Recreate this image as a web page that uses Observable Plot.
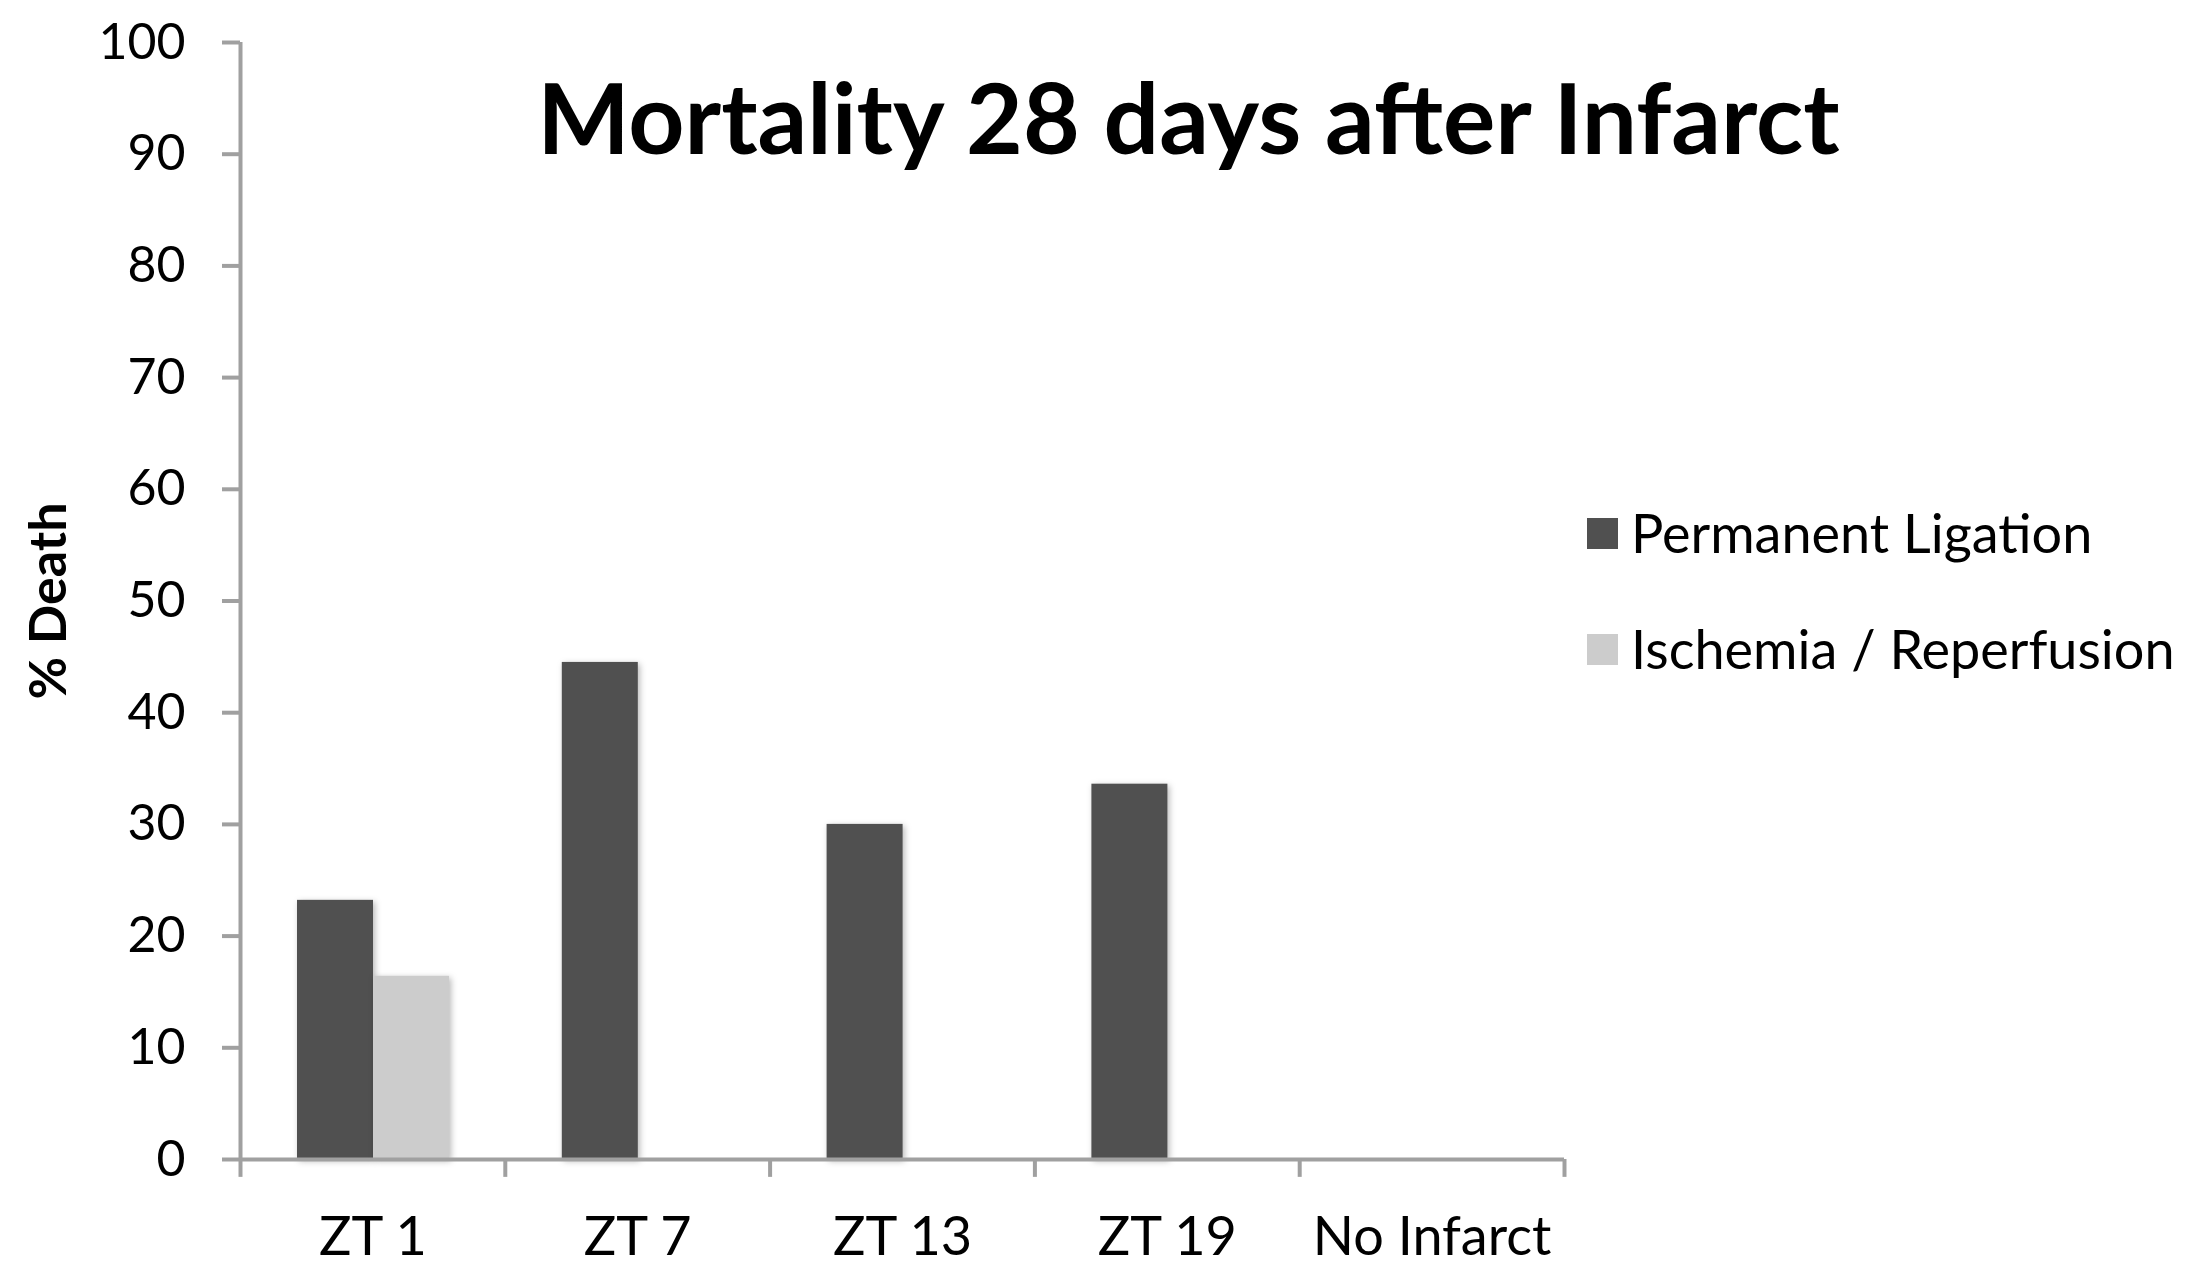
<!DOCTYPE html>
<html>
<head>
<meta charset="utf-8">
<script src="https://cdn.jsdelivr.net/npm/d3@7"></script>
<script src="https://cdn.jsdelivr.net/npm/@observablehq/plot@0.6"></script>
<style>
  html, body { margin: 0; padding: 0; background: white; }
  #wrap { position: relative; width: 2192px; height: 1275px; font-family: Lato, "Open Sans", sans-serif; }
  .bars { filter: drop-shadow(2px 2px 3px rgba(0,0,0,0.28)); }
  .legend { position: absolute; left: 1587px; top: 0; }
  .item { position: absolute; left: 0; display: flex; align-items: center; white-space: nowrap; font-size: 54px; line-height: 60px; height: 60px; color: #000; }
  .sw { width: 31px; height: 31px; margin-right: 13px; }
</style>
</head>
<body>
<div id="wrap"></div>
<script>
// ---- data ----
const categories = ["ZT 1", "ZT 7", "ZT 13", "ZT 19", "No Infarct"];
const seriesNames = ["Permanent Ligation", "Ischemia / Reperfusion"];
const permanentLigation = [23.2, 44.5, 30.0, 33.6, 0];
const ischemiaReperfusion = [16.4, null, null, null, null];
const yTicks = [0, 10, 20, 30, 40, 50, 60, 70, 80, 90, 100];
const titleText = "Mortality 28 days after Infarct";
const yLabel = "% Death";

// ---- layout ----
const W = 2192, H = 1275;
const mL = 240, mR = 628, mT = 42, mB = 116;
const step = (W - mL - mR) / categories.length;
const axisColor = "#a0a0a0";
const colors = ["#505050", "#cccccc"];

const pl = categories.map((c, i) => ({category: c, value: permanentLigation[i]})).filter(d => d.value != null);
const ir = categories.map((c, i) => ({category: c, value: ischemiaReperfusion[i]})).filter(d => d.value != null);

const boundaries = categories.map(c => ({c}));

const chart = Plot.plot({
  width: W, height: H,
  marginLeft: mL, marginRight: mR, marginTop: mT, marginBottom: mB,
  style: {fontFamily: "Lato, 'Open Sans', sans-serif", background: "white", color: "black"},
  x: {domain: categories, padding: 0, round: false, axis: null},
  y: {domain: [0, 100], axis: null},
  marks: [
    Plot.barY(pl, {x: "category", y: "value", fill: colors[0], insetLeft: 57, insetRight: step - 57 - 76, className: "bars"}),
    Plot.barY(ir, {x: "category", y: "value", fill: colors[1], insetLeft: 133, insetRight: step - 133 - 76, className: "bars"}),
    Plot.axisY({ticks: yTicks, tickSize: 18, tickPadding: 37, fontSize: 50, stroke: axisColor, strokeWidth: 4, fill: "black", label: null}),
    Plot.axisX({tickSize: 0, tickPadding: 57, fontSize: 54, fill: "black", label: null}),
    Plot.ruleY([0], {stroke: axisColor, strokeWidth: 4}),
    Plot.ruleX([categories[0]], {x: d => d, dx: -step / 2, y1: 0, y2: 100, stroke: axisColor, strokeWidth: 4}),
    Plot.ruleX(boundaries, {x: "c", dx: -step / 2, y1: 0, y2: -1.6, stroke: axisColor, strokeWidth: 4}),
    Plot.ruleX(boundaries.slice(-1), {x: "c", dx: step / 2, y1: 0, y2: -1.6, stroke: axisColor, strokeWidth: 4}),
    Plot.text([titleText], {frameAnchor: "top", dx: 286, dy: 80, fontSize: 98, fontWeight: 700, lineAnchor: "middle", fill: "black"}),
    Plot.text([yLabel], {frameAnchor: "left", textAnchor: "middle", dx: -191, rotate: -90, fontSize: 52, fontWeight: 700, lineAnchor: "middle", fill: "black"})
  ]
});

const wrap = document.getElementById("wrap");
wrap.appendChild(chart);

// legend
const legend = document.createElement("div");
legend.className = "legend";
const tops = [503, 619];
seriesNames.forEach((name, i) => {
  const item = document.createElement("div");
  item.className = "item";
  item.style.top = tops[i] + "px";
  const sw = document.createElement("div");
  sw.className = "sw";
  sw.style.background = colors[i];
  const t = document.createElement("span");
  t.textContent = name;
  item.appendChild(sw);
  item.appendChild(t);
  legend.appendChild(item);
});
wrap.appendChild(legend);
</script>
</body>
</html>
